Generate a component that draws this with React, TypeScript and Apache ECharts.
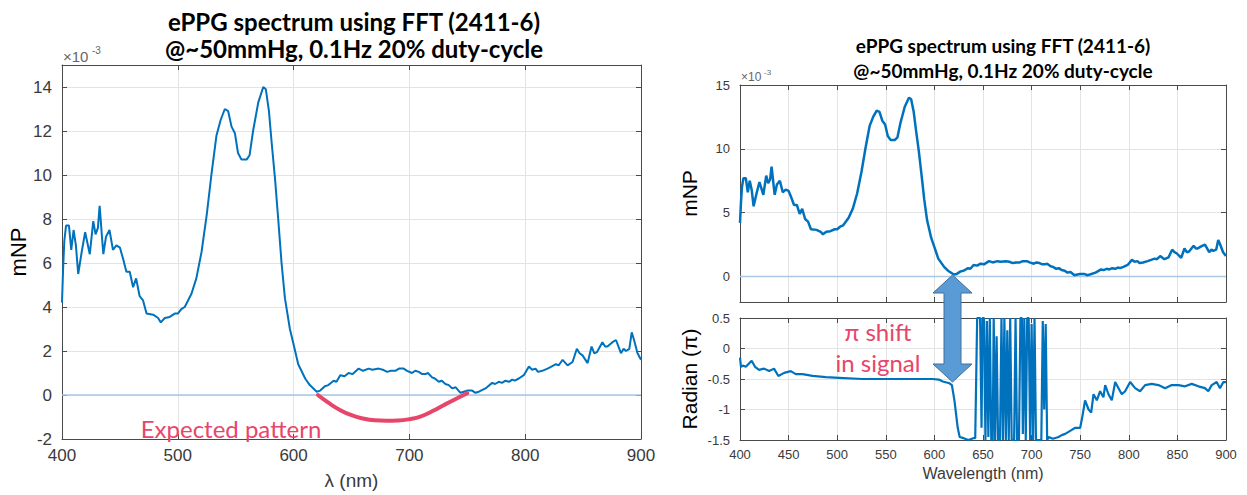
import React, { useEffect, useRef } from "react";
import * as echarts from "echarts";

// ePPG spectrum (×10^-3 mNP) vs wavelength (nm)
const spectrumWavelength = [
  400, 401, 402, 403.5, 406, 408, 410, 412, 414, 417, 420, 422, 424, 427, 429, 431, 432.5, 434.5, 435.7, 438,
  441, 444, 447, 450, 452.7, 455.6, 458.5, 461.4, 464, 467, 470, 473, 478.7, 483, 485.3, 488.8, 493, 497.4, 500, 503,
  506, 511.8, 516, 520.5, 525, 529, 533.4, 537, 540.6, 543.5, 546.4, 549.3, 552, 555, 559.4, 562, 565, 569.5, 573.8, 576,
  578.7, 581, 584, 586.7, 589.6, 592.5, 596.8, 600, 604, 610, 614, 620, 623, 627, 630, 634.6, 637, 640.3, 644, 647.5,
  651, 656.2, 660, 664.8, 668, 673.5, 677, 680.7, 684, 687.9, 691, 695.1, 698, 702.3, 705, 708.1, 711, 713.8, 716, 719.6,
  722, 725.4, 728, 731.1, 734, 736.9, 740, 744.1, 747, 749.9, 754.2, 757, 760, 765.7, 768, 771.5, 774, 777.2, 780, 783,
  786, 788.8, 791, 794.5, 798.8, 803.2, 806, 808.9, 811, 814.7, 819.3, 823, 826.5, 829, 832.3, 836.6, 840.9, 844.6, 847,
  849.5, 853.9, 857.3, 859.6, 862, 866.7, 869, 871, 875.4, 878.4, 882.7, 885, 887, 889.9, 892, 894, 897, 900,
];
const spectrumMNP = [
  4.2, 5.8, 7.0, 7.7, 7.7, 6.6, 7.5, 6.8, 5.5, 6.5, 7.4, 6.9, 6.4, 7.9, 7.3, 7.6, 8.6, 7.2, 6.4, 7.2,
  7.5, 6.6, 6.8, 6.7, 6.2, 5.6, 5.6, 4.9, 5.3, 4.5, 4.3, 3.7, 3.65, 3.5, 3.3, 3.5, 3.55, 3.7, 3.7, 3.9,
  4.0, 4.6, 5.3, 6.5, 8.2, 10.0, 11.8, 12.5, 13.0, 12.9, 12.2, 11.9, 11.0, 10.7, 10.7, 10.9, 12.0, 13.3, 14.0, 13.9,
  12.9, 11.5, 9.8, 8.0, 6.0, 4.4, 3.0, 2.3, 1.4, 0.75, 0.45, 0.15, 0.2, 0.4, 0.45, 0.65, 0.6, 0.9, 0.85, 1.0,
  0.95, 1.2, 1.1, 1.2, 1.15, 1.2, 1.15, 1.05, 1.1, 1.1, 1.2, 1.2, 1.1, 1.0, 1.1, 1.05, 0.95, 0.95, 1.0, 0.8,
  0.75, 0.6, 0.65, 0.5, 0.45, 0.3, 0.35, 0.1, 0.15, 0.2, 0.2, 0.1, 0.15, 0.3, 0.4, 0.55, 0.5, 0.6, 0.55, 0.65,
  0.6, 0.7, 0.65, 0.75, 0.9, 1.3, 1.15, 1.2, 1.05, 1.1, 1.2, 1.3, 1.4, 1.35, 1.6, 1.35, 1.5, 2.1, 1.9,
  1.8, 1.45, 2.2, 1.9, 1.95, 2.4, 2.2, 2.2, 2.4, 2.5, 1.9, 2.1, 2.0, 2.1, 2.85, 2.5, 1.9, 1.6,
];

// Phase (π rad) vs wavelength (nm)
const phaseWavelength = [
  400, 401, 403, 406, 409, 412, 415.5, 419.6, 424.7, 430, 435, 439.5, 445.4, 452.2, 457.4, 464.3, 474.6, 488.4, 502.2, 526,
  560, 598, 604.5, 608.6, 615.5, 618, 620.6, 624, 626, 630, 635, 640, 642,
  644, 647, 648.5, 649.5, 651, 652.5, 654, 655.5, 657, 658.5, 660, 661, 662.5, 664, 665.5, 667.5, 669, 670.5, 672,
  673.5, 675, 676.5, 678, 679.5, 682, 683.5, 685, 687, 688.5, 690, 691, 692.5, 694, 695.5, 697, 698.5, 700, 701.5,
  703, 704.5, 710, 711.5, 713, 714.5, 716,
  717.5, 722, 727.7, 731, 734.6, 739.7, 744.9, 750, 752.4, 755, 758.6, 761.3, 763.7, 767.1, 770.5, 773.9, 775.7, 779.1,
  782.5, 786, 789.4, 792.8, 796.2, 801.4, 806.5, 811.6, 816.8, 823.6, 830.5, 837.3, 844.2, 851, 857.9, 864.7, 871.6,
  878.4, 881.8, 885.3, 890.4, 893.8, 897.3, 900,
];
const phaseRadian = [
  -0.15, -0.3, -0.28, -0.3, -0.25, -0.2, -0.3, -0.35, -0.33, -0.37, -0.33, -0.45, -0.4, -0.37, -0.42, -0.42, -0.45, -0.47, -0.48, -0.5,
  -0.5, -0.5, -0.51, -0.54, -0.57, -0.6, -0.85, -1.3, -1.45, -1.47, -1.5, -1.47, -1.47,
  0.5, 0.5, -1.3, 0.5, 0.5, -1.5, 0.45, -1.45, 0.5, -1.5, -1.5, 0.5, -1.5, 0.2, -1.5, -1.5, 0.5, -1.5, 0.5,
  -1.5, 0.3, -1.5, 0.5, -1.5, -1.5, 0.5, -1.5, -1.5, 0.5, 0.5, -1.4, 0.5, -1.5, 0.5, 0.5, -1.5, 0.4, -1.5,
  0.5, -1.5, -1.5, 0.45, -1.0, 0.4, -1.5,
  -1.45, -1.48, -1.45, -1.42, -1.4, -1.35, -1.3, -1.3, -1.1, -0.85, -1.0, -1.05, -0.75, -0.85, -0.7, -0.8, -0.6, -0.75,
  -0.85, -0.55, -0.65, -0.75, -0.7, -0.55, -0.65, -0.7, -0.6, -0.58, -0.6, -0.65, -0.6, -0.6, -0.62, -0.58, -0.62,
  -0.65, -0.7, -0.6, -0.55, -0.65, -0.55, -0.55,
];

// Hand-drawn "expected pattern" curve (×10^-3 mNP)
const expectedWavelength = [621, 630, 640, 650, 660, 670, 680, 690, 700, 710, 720, 730, 740, 750];
const expectedMNP = [0, -0.35, -0.68, -0.92, -1.07, -1.15, -1.17, -1.16, -1.1, -0.97, -0.73, -0.45, -0.18, 0.08];

// Zero reference line
const baselineWavelength = [400, 900];
const baselineValue = [0, 0];

const rightMNPTicks = [0, 5, 10, 15];

const zip = (xs: number[], ys: number[]) => xs.map((x, i) => [x, ys[i]]);

const AX = "#4a4a4a";
const LC = "#3a3a3a";
const GRID = "#e3e3e3";
const BLUE = "#0072BD";
const ZERO = "#a9c8e6";
const RED = "#E8456A";
const SANS = "Liberation Sans";
const CAL = "Lato";

function mainX(gridIndex: number, interval: number, labels: boolean, fontSize: number, name: string, nameGap: number, nameSize: number) {
  return {
    gridIndex, type: "value", min: 400, max: 900, interval, position: "bottom",
    axisLine: { show: true, onZero: false, lineStyle: { color: AX, width: 1 } },
    axisTick: { show: true, inside: true, length: 5, lineStyle: { color: AX } },
    axisLabel: { show: labels, color: LC, fontSize, fontFamily: SANS, margin: 8 },
    splitLine: { show: true, lineStyle: { color: GRID, width: 1 } },
    name, nameLocation: "middle", nameGap,
    nameTextStyle: { fontSize: nameSize, color: LC, fontFamily: SANS },
  };
}
function topX(gridIndex: number, interval: number) {
  return {
    gridIndex, type: "value", min: 400, max: 900, interval, position: "top",
    axisLine: { show: true, onZero: false, lineStyle: { color: AX, width: 1 } },
    axisTick: { show: true, inside: true, length: 5, lineStyle: { color: AX } },
    axisLabel: { show: false }, splitLine: { show: false },
  };
}

export default function App() {
  const ref = useRef<HTMLDivElement>(null);
  useEffect(() => {
    const chart = echarts.init(ref.current!, null, { renderer: "svg" });
    const option: any = {
      animation: false,
      backgroundColor: "#ffffff",
      grid: [
        { left: 62, top: 65, width: 579, height: 383 },
        { left: 740, top: 85, width: 486, height: 217 },
        { left: 740, top: 318, width: 486, height: 122 },
      ],
      xAxis: [
        mainX(0, 100, true, 17, "λ (nm)", 32, 19),
        mainX(1, 50, false, 13, "", 0, 12),
        mainX(2, 50, true, 13, "Wavelength (nm)", 25, 16),
        topX(0, 100),
        topX(1, 50),
        topX(2, 50),
      ],
      yAxis: [
        {
          gridIndex: 0, type: "value", min: -2, max: 15, interval: 2, position: "left",
          axisLine: { show: true, onZero: false, lineStyle: { color: AX } },
          axisTick: { show: true, inside: true, length: 5, lineStyle: { color: AX } },
          axisLabel: { color: LC, fontSize: 17, fontFamily: SANS, showMaxLabel: false, margin: 10 },
          splitLine: { show: true, lineStyle: { color: GRID } },
          name: "mNP", nameLocation: "middle", nameGap: 30,
          nameTextStyle: { fontSize: 22, color: "#000", fontFamily: SANS },
        },
        {
          gridIndex: 1, type: "value", min: -2, max: 15, position: "left",
          axisLine: { show: true, onZero: false, lineStyle: { color: AX } },
          axisTick: { show: true, inside: true, length: 5, customValues: rightMNPTicks, lineStyle: { color: AX } },
          axisLabel: { color: LC, fontSize: 13, fontFamily: SANS, customValues: rightMNPTicks, margin: 10 },
          splitLine: { show: true, lineStyle: { color: GRID } },
          name: "mNP", nameLocation: "middle", nameGap: 40,
          nameTextStyle: { fontSize: 21, color: "#000", fontFamily: SANS },
        },
        {
          gridIndex: 2, type: "value", min: -1.5, max: 0.5, interval: 0.5, position: "left",
          axisLine: { show: true, onZero: false, lineStyle: { color: AX } },
          axisTick: { show: true, inside: true, length: 5, lineStyle: { color: AX } },
          axisLabel: { color: LC, fontSize: 13, fontFamily: SANS, margin: 10 },
          splitLine: { show: true, lineStyle: { color: GRID } },
          name: "Radian (π)", nameLocation: "middle", nameGap: 40,
          nameTextStyle: { fontSize: 21, color: "#000", fontFamily: SANS },
        },
        {
          gridIndex: 0, type: "value", min: -2, max: 15, interval: 2, position: "right",
          axisLine: { show: true, onZero: false, lineStyle: { color: AX } },
          axisTick: { show: true, inside: true, length: 5, lineStyle: { color: AX } },
          axisLabel: { show: false }, splitLine: { show: false },
        },
        {
          gridIndex: 1, type: "value", min: -2, max: 15, position: "right",
          axisLine: { show: true, onZero: false, lineStyle: { color: AX } },
          axisTick: { show: true, inside: true, length: 5, customValues: rightMNPTicks, lineStyle: { color: AX } },
          axisLabel: { show: false, customValues: rightMNPTicks }, splitLine: { show: false },
        },
        {
          gridIndex: 2, type: "value", min: -1.5, max: 0.5, interval: 0.5, position: "right",
          axisLine: { show: true, onZero: false, lineStyle: { color: AX } },
          axisTick: { show: true, inside: true, length: 5, lineStyle: { color: AX } },
          axisLabel: { show: false }, splitLine: { show: false },
        },
      ],
      series: [
        {
          type: "line", xAxisIndex: 0, yAxisIndex: 0, data: zip(baselineWavelength, baselineValue),
          showSymbol: false, lineStyle: { color: ZERO, width: 1.5 }, z: 2,
        },
        {
          type: "line", xAxisIndex: 0, yAxisIndex: 0, data: zip(spectrumWavelength, spectrumMNP),
          showSymbol: false, lineStyle: { color: BLUE, width: 2 }, z: 3,
        },
        {
          type: "line", xAxisIndex: 0, yAxisIndex: 0, data: zip(expectedWavelength, expectedMNP),
          showSymbol: false, smooth: true, lineStyle: { color: RED, width: 4, cap: "round" }, z: 4,
        },
        {
          type: "line", xAxisIndex: 1, yAxisIndex: 1, data: zip(baselineWavelength, baselineValue),
          showSymbol: false, lineStyle: { color: ZERO, width: 1.5 }, z: 2,
        },
        {
          type: "line", xAxisIndex: 1, yAxisIndex: 1, data: zip(spectrumWavelength, spectrumMNP),
          showSymbol: false, lineStyle: { color: BLUE, width: 2.5 }, z: 3,
        },
        {
          type: "line", xAxisIndex: 2, yAxisIndex: 2, data: zip(phaseWavelength, phaseRadian),
          showSymbol: false, lineStyle: { color: BLUE, width: 2.2 }, z: 3,
        },
      ],
      graphic: [
        { type: "text", x: 354, y: 21, z: 10, style: { text: "ePPG spectrum using FFT (2411-6)", align: "center", verticalAlign: "middle", fontSize: 24, fontWeight: "bold", fontFamily: CAL, fill: "#000" } },
        { type: "text", x: 354, y: 48, z: 10, style: { text: "@~50mmHg, 0.1Hz 20% duty-cycle", align: "center", verticalAlign: "middle", fontSize: 24, fontWeight: "bold", fontFamily: CAL, fill: "#000" } },
        { type: "text", x: 63, y: 56, z: 10, style: { text: "×10", align: "left", verticalAlign: "middle", fontSize: 15, fontFamily: SANS, fill: "#666" } },
        { type: "text", x: 92, y: 50, z: 10, style: { text: "-3", align: "left", verticalAlign: "middle", fontSize: 10, fontFamily: SANS, fill: "#666" } },
        { type: "text", x: 1003, y: 45, z: 10, style: { text: "ePPG spectrum using FFT (2411-6)", align: "center", verticalAlign: "middle", fontSize: 19, fontWeight: "bold", fontFamily: CAL, fill: "#000" } },
        { type: "text", x: 1003, y: 70, z: 10, style: { text: "@~50mmHg, 0.1Hz 20% duty-cycle", align: "center", verticalAlign: "middle", fontSize: 19, fontWeight: "bold", fontFamily: CAL, fill: "#000" } },
        { type: "text", x: 741, y: 77, z: 10, style: { text: "×10", align: "left", verticalAlign: "middle", fontSize: 12, fontFamily: SANS, fill: "#666" } },
        { type: "text", x: 764, y: 72, z: 10, style: { text: "-3", align: "left", verticalAlign: "middle", fontSize: 8, fontFamily: SANS, fill: "#666" } },
        { type: "text", x: 231, y: 428, z: 10, style: { text: "Expected pattern", align: "center", verticalAlign: "middle", fontSize: 24, fontFamily: CAL, fill: RED } },
        { type: "text", x: 878, y: 331, z: 10, style: { text: "π shift", align: "center", verticalAlign: "middle", fontSize: 24, fontFamily: CAL, fill: RED } },
        { type: "text", x: 878, y: 362, z: 10, style: { text: "in signal", align: "center", verticalAlign: "middle", fontSize: 24, fontFamily: CAL, fill: RED } },
        {
          type: "polygon", z: 20,
          shape: {
            points: [
              [952.5, 275], [972, 293], [961, 293], [961, 364], [972, 364], [952.5, 382],
              [933, 364], [944, 364], [944, 293], [933, 293],
            ],
          },
          style: { fill: "#5B9BD5", stroke: "#41719C", lineWidth: 1 },
        },
      ],
    };
    chart.setOption(option);
    return () => chart.dispose();
  }, []);
  return (
    <div
      ref={ref}
      style={{ position: "fixed", left: 0, top: 0, width: 1247, height: 495, background: "#fff" }}
    />
  );
}
